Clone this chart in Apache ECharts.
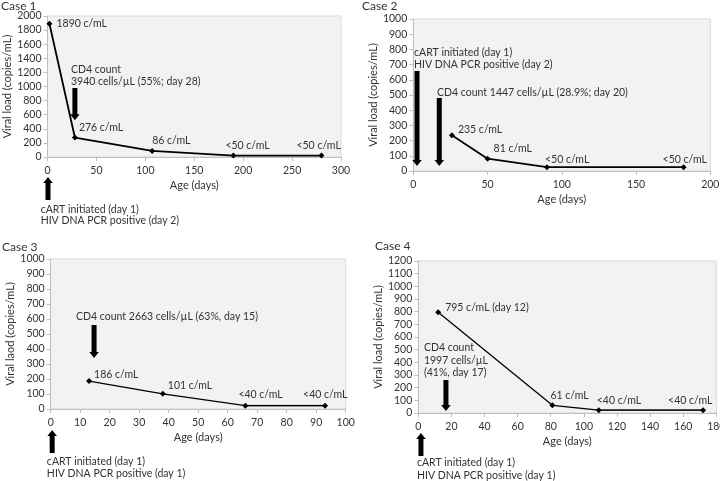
<!DOCTYPE html>
<html><head><meta charset="utf-8">
<script src="https://cdn.jsdelivr.net/npm/echarts@6/dist/echarts.min.js"></script>
<style>html,body{margin:0;padding:0;background:#fff}#c{width:720px;height:481px}</style>
</head><body><div id="c"></div>
<script>
// ---- data ----
const caseTitles = ['Case 1', 'Case 2', 'Case 3', 'Case 4'];
const yAxisNames = ['Viral load (copies/mL)', 'Viral load (copies/mL)', 'Viral laod (copies/mL)', 'Viral load (copies/mL)'];
const xAxisName = 'Age (days)';
const xMax = [300, 200, 100, 180];
const xStep = [50, 50, 10, 20];
const yMax = [2000, 1000, 1000, 1200];
const yStep = [200, 100, 100, 100];

const case1Days = [2, 28, 107, 190, 280];
const case1Load = [1890, 276, 86, 20, 20];
const case1Labels = ['1890 c/mL', '276 c/mL', '86 c/mL', '<50 c/mL', '<50 c/mL'];

const case2Days = [26, 50, 90, 182];
const case2Load = [235, 81, 25, 25];
const case2Labels = ['235 c/mL', '81 c/mL', '<50 c/mL', '<50 c/mL'];

const case3Days = [13, 38, 66, 93];
const case3Load = [186, 101, 22, 22];
const case3Labels = ['186 c/mL', '101 c/mL', '<40 c/mL', '<40 c/mL'];

const case4Days = [12, 81, 109, 172];
const case4Load = [795, 61, 22, 22];
const case4Labels = ['795 c/mL (day 12)', '61 c/mL', '<40 c/mL', '<40 c/mL'];

// annotations: [case index, day, viral-load level, text]
const notes = [
  [0, 24, 1234, 'CD4 count'],
  [0, 24, 1064, '3940 cells/\u00b5L (55%; day 28)'],
  [0, -7, -752, 'cART initiated (day 1)'],
  [0, -7, -908, 'HIV DNA PCR positive (day 2)'],
  [1, 0.5, 776, 'cART initiated (day 1)'],
  [1, 0.5, 697, 'HIV DNA PCR positive (day 2)'],
  [1, 16, 513, 'CD4 count 1447 cells/\u00b5L (28.9%; day 20)'],
  [2, 8.6, 613, 'CD4 count 2663 cells/\u00b5L (63%, day 15)'],
  [2, -1.3, -353, 'cART initiated (day 1)'],
  [2, -1.3, -433, 'HIV DNA PCR positive (day 1)'],
  [3, 3.4, 513, 'CD4 count'],
  [3, 3.4, 410, '1997 cells/\u00b5L'],
  [3, 3.4, 316, '(41%, day 17)'],
  [3, -0.8, -395, 'cART initiated (day 1)'],
  [3, -0.8, -497, 'HIV DNA PCR positive (day 1)']
];
// arrows: [case index, day, tail level, tip level]
const arrows = [
  [0, 28, 980, 520],
  [0, 0.5, -610, -284],
  [1, 2.5, 658, 33],
  [1, 17.5, 480, 33],
  [2, 14.7, 560, 340],
  [2, 0.5, -293, -140],
  [3, 16.7, 260, 16],
  [3, 1.6, -340, -158]
];

// ---- layout / style ----
const gridBoxes = [
  {left: 47.5, top: 16, width: 293.5, height: 141},
  {left: 413.3, top: 19, width: 297, height: 152},
  {left: 50.7, top: 259, width: 295, height: 150},
  {left: 418.3, top: 261, width: 298, height: 152}
];
const titlePos = [[1, 0], [362, 0], [2, 241], [375, 240]];
const labelOffsets = [
  [[7, 0], [4, -10], [0, -10], [-8, -10], [-25, -10]],
  [[6, -6], [6, -10], [-2, -8], [-21, -8]],
  [[5, -6], [5, -8], [-7, -11], [-22, -11]],
  [[7, -5], [-2, -10], [-2, -10], [-35, -10]]
];
const lineWidths = [1.8, 1.8, 1.3, 1.3];
const greyTail = [false, false, true, true];

const FONT = 'Lato';
const TXT = '#333';
const allDays = [case1Days, case2Days, case3Days, case4Days];
const allLoad = [case1Load, case2Load, case3Load, case4Load];
const allLabels = [case1Labels, case2Labels, case3Labels, case4Labels];

const chart = echarts.init(document.getElementById('c'), null, {renderer: 'canvas'});

const grid = gridBoxes.map(g => Object.assign({show: true, backgroundColor: '#f2f2f2', borderColor: '#d9d9d9', borderWidth: 1,
  containLabel: false, outerBoundsMode: 'none'}, g));
const xAxis = [], yAxis = [], title = [], series = [];
for (let i = 0; i < 4; i++) {
  title.push({text: caseTitles[i], left: titlePos[i][0], top: titlePos[i][1], padding: 0,
    textStyle: {fontFamily: FONT, fontSize: 12, fontWeight: 'normal', color: TXT}});
  xAxis.push({type: 'value', gridIndex: i, min: 0, max: xMax[i], interval: xStep[i],
    name: xAxisName, nameLocation: 'middle', nameGap: 23,
    nameTextStyle: {fontFamily: FONT, fontSize: 11, color: TXT},
    axisLine: {onZero: false, lineStyle: {color: '#bfbfbf'}},
    axisTick: {show: true, length: 4, lineStyle: {color: '#bfbfbf'}},
    axisLabel: {fontFamily: FONT, fontSize: 10.5, color: TXT, margin: 8, showMaxLabel: true, hideOverlap: false,
      formatter: v => String(v)},
    splitLine: {show: false}});
  yAxis.push({type: 'value', gridIndex: i, min: 0, max: yMax[i], interval: yStep[i],
    name: yAxisNames[i], nameLocation: 'middle', nameGap: 34, nameRotate: 90,
    nameTextStyle: {fontFamily: FONT, fontSize: 11, color: TXT},
    axisLine: {show: true, lineStyle: {color: '#bfbfbf'}},
    axisTick: {show: true, length: 4, lineStyle: {color: '#bfbfbf'}},
    axisLabel: {fontFamily: FONT, fontSize: 10.5, color: TXT, margin: 6, formatter: v => String(v)},
    splitLine: {show: false}});
  const data = allDays[i].map((d, k) => ({
    value: [d, allLoad[i][k]],
    label: {show: true, formatter: allLabels[i][k], position: 'inside', align: 'left', verticalAlign: 'middle',
      offset: labelOffsets[i][k], fontFamily: FONT, fontSize: 10.5, color: TXT}
  }));
  series.push({type: 'line', xAxisIndex: i, yAxisIndex: i, data: data, symbol: 'diamond', symbolSize: 6,
    showAllSymbol: true, clip: false,
    itemStyle: {color: '#000'}, lineStyle: {color: '#000', width: lineWidths[i]}, z: 3, animation: false});
  if (greyTail[i]) {
    const n = allDays[i].length;
    series.push({type: 'line', xAxisIndex: i, yAxisIndex: i,
      data: allDays[i].slice(n - 2).map((d, k) => [d, allLoad[i][n - 2 + k]]),
      showSymbol: false, lineStyle: {color: '#808080', width: 1.8}, z: 2, animation: false, silent: true});
  }
}
chart.setOption({animation: false, title, grid, xAxis, yAxis, series});

function drawAnnotations() {
  const graphic = [];
  notes.forEach(n => {
    const p = chart.convertToPixel({gridIndex: n[0]}, [n[1], n[2]]);
    graphic.push({type: 'text', x: p[0], y: p[1], silent: true,
      style: {text: n[3], fill: TXT, font: '10.5px ' + FONT, textAlign: 'left', textVerticalAlign: 'middle'}});
  });
  arrows.forEach(a => {
    const t = chart.convertToPixel({gridIndex: a[0]}, [a[1], a[2]]);
    const h = chart.convertToPixel({gridIndex: a[0]}, [a[1], a[3]]);
    const x = t[0], y0 = t[1], y1 = h[1];
    const dir = y1 > y0 ? 1 : -1;
    const sw = 2.5, hw = 4.8, hl = 6;
    const yb = y1 - dir * hl;
    graphic.push({type: 'polygon', silent: true, z: 10,
      shape: {points: [[x - sw, y0], [x + sw, y0], [x + sw, yb], [x + hw, yb], [x, y1], [x - hw, yb], [x - sw, yb]]},
      style: {fill: '#000'}});
  });
  chart.setOption({graphic});
}
drawAnnotations();
</script>
</body></html>
